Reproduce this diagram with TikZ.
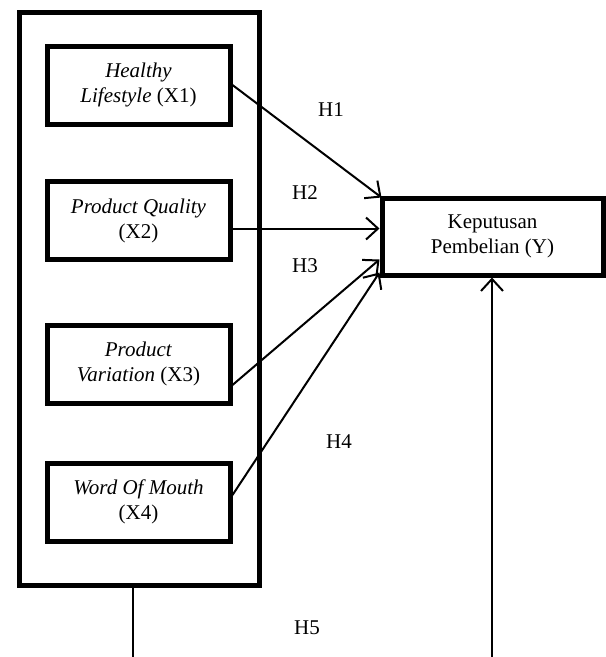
\documentclass[tikz,border=0pt]{standalone}
\usepackage{fontspec}
\setmainfont{Liberation Serif}
\usetikzlibrary{arrows.meta}
\begin{document}
\begin{tikzpicture}[x=1pt,y=-1pt,
  font=\fontsize{21}{25}\selectfont,
  varbox/.style={draw,line width=5pt,minimum width=183pt,minimum height=78pt,align=center,inner sep=0pt},
  grpbox/.style={draw,line width=5pt,minimum width=240pt,minimum height=573pt,inner sep=0pt},
  link/.style={line width=2pt},
  arr/.style={line width=2pt,-{Straight Barb[length=12pt,width=22pt,line width=2pt]}},
  hlab/.style={inner sep=0pt}]
\useasboundingbox (0,0) rectangle (606,657);
\node[grpbox] (grp) at (139,298.5) {};
\node[varbox] (x1) at (138.5,85) {\textit{Healthy}\\\textit{Lifestyle} (X1)};
\node[varbox] (x2) at (138.5,220.5) {\textit{Product Quality}\\(X2)};
\node[varbox] (x3) at (138.5,364) {\textit{Product}\\\textit{Variation} (X3)};
\node[varbox] (x4) at (138.5,502) {\textit{Word Of Mouth}\\(X4)};
\node[draw,line width=5pt,minimum width=221pt,minimum height=77pt,align=center,inner sep=0pt] (y) at (492.5,236.5) {Keputusan\\Pembelian (Y)};
\node[hlab] (h1) at (331,110) {H1};
\node[hlab] (h2) at (305,193) {H2};
\node[hlab] (h3) at (305,266) {H3};
\node[hlab] (h4) at (339,442) {H4};
\node[hlab] (h5) at (307,628) {H5};
\coordinate (b1) at (133,657);
\coordinate (b2) at (492,657);
\draw[arr] ([yshift=0pt]x1.east) -- ([xshift=2pt,yshift=-2pt]y.north west);
\draw[arr] ([yshift=-8pt]x2.east) -- ([yshift=-8pt]x2.east -| y.west);
\draw[arr] ([yshift=-21pt]x3.east) -- ([yshift=-23pt]y.west);
\draw[arr] ([yshift=7pt]x4.east) -- ([yshift=-36pt]y.west);
\draw[link] (grp.south -| b1) -- (b1);
\draw[arr] (b2) -- (b2 |- y.south);
\end{tikzpicture}
\end{document}
